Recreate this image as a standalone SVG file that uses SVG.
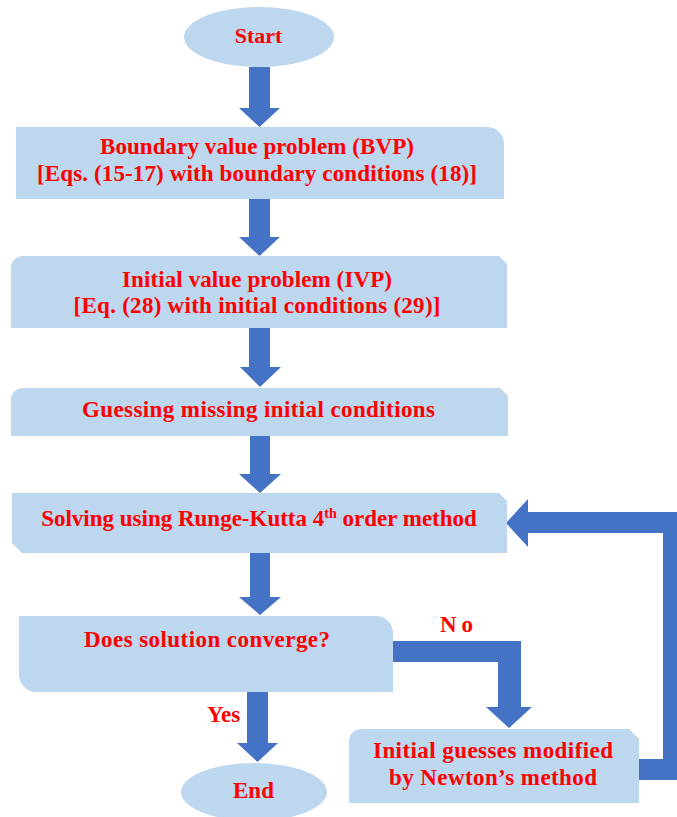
<svg xmlns="http://www.w3.org/2000/svg" width="677" height="817" viewBox="0 0 677 817">
<style>
.box{fill:#BDD7EE;}
.arr{fill:#4472C4;}
.t{font-family:"Liberation Serif","Times New Roman",serif;font-weight:bold;font-size:23px;fill:#FF0000;}
.c{text-anchor:middle;}
</style>
<rect width="677" height="817" fill="#FFFFFF"/>
<g id="connectors">
<polygon class="arr" points="249,67 270,67 270,108 280,108 259.5,127 239,108 249,108"/>
<polygon class="arr" points="249,199 270,199 270,237 280,237 259.5,256 239,237 249,237"/>
<polygon class="arr" points="249,328 270,328 270,367 281,367 260,387 240,367 249,367"/>
<polygon class="arr" points="250,436 270,436 270,474 281,474 260,493 239,474 250,474"/>
<polygon class="arr" points="250,553 270,553 270,597 281,597 260,615 239,597 250,597"/>
<polygon class="arr" points="247,692 268,692 268,743 278,743 257.5,762 237,743 247,743"/>
<polygon class="arr" points="393,641 521,641 521,707 532,707 509,728 486,707 498,707 498,662 393,662"/>
<polygon class="arr" points="639,759 663,759 663,533 528,533 528,547 506,523 528,499 528,512 684,512 684,780 639,780"/>
</g>
<g id="start">
<ellipse class="box" cx="259" cy="37" rx="75" ry="30"/>
<text class="t c" x="258.5" y="43" style="font-size:22px">Start</text>
</g>
<g id="bvp">
<path class="box" d="M16,127 H487 A17,17 0 0 1 504,144 V199 H16 Z"/>
<text class="t c" x="257" y="154" textLength="314">Boundary value problem (BVP)</text>
<text class="t c" x="257" y="181" textLength="440">[Eqs. (15-17) with boundary conditions (18)]</text>
</g>
<g id="ivp">
<path class="box" d="M23,256 H499 L507,264 V328 H11 V268 A12,12 0 0 1 23,256 Z"/>
<text class="t c" x="257" y="287" textLength="270">Initial value problem (IVP)</text>
<text class="t c" x="257" y="313" textLength="367">[Eq. (28) with initial conditions (29)]</text>
</g>
<g id="guess">
<path class="box" d="M23,388 H500 L508,396 V436 H11 V400 A12,12 0 0 1 23,388 Z"/>
<text class="t c" x="258.5" y="417" textLength="353">Guessing missing initial conditions</text>
</g>
<g id="solve">
<path class="box" d="M12,493 H499 L507,501 V553 H22 L12,543 Z"/>
<text class="t c" x="259" y="526">Solving using Runge-Kutta 4<tspan dy="-8" style="font-size:14px">th</tspan><tspan dy="8"> order method</tspan></text>
</g>
<g id="converge">
<path class="box" d="M19,616 H376 A17,17 0 0 1 393,633 V692 H36 A17,17 0 0 1 19,675 Z"/>
<text class="t c" x="207" y="647" textLength="246">Does solution converge?</text>
</g>
<g id="newton">
<path class="box" d="M361,729 H629 L639,739 V803 H349 V741 A12,12 0 0 1 361,729 Z"/>
<text class="t c" x="493" y="758" textLength="240">Initial guesses modified</text>
<text class="t c" x="493" y="785" textLength="208">by Newton’s method</text>
</g>
<g id="end">
<ellipse class="box" cx="254" cy="792" rx="73" ry="29"/>
<text class="t c" x="253.5" y="798">End</text>
</g>
<g id="labels">
<text class="t" x="440" y="632" style="letter-spacing:5px">No</text>
<text class="t" x="207" y="722">Yes</text>
</g>
</svg>
